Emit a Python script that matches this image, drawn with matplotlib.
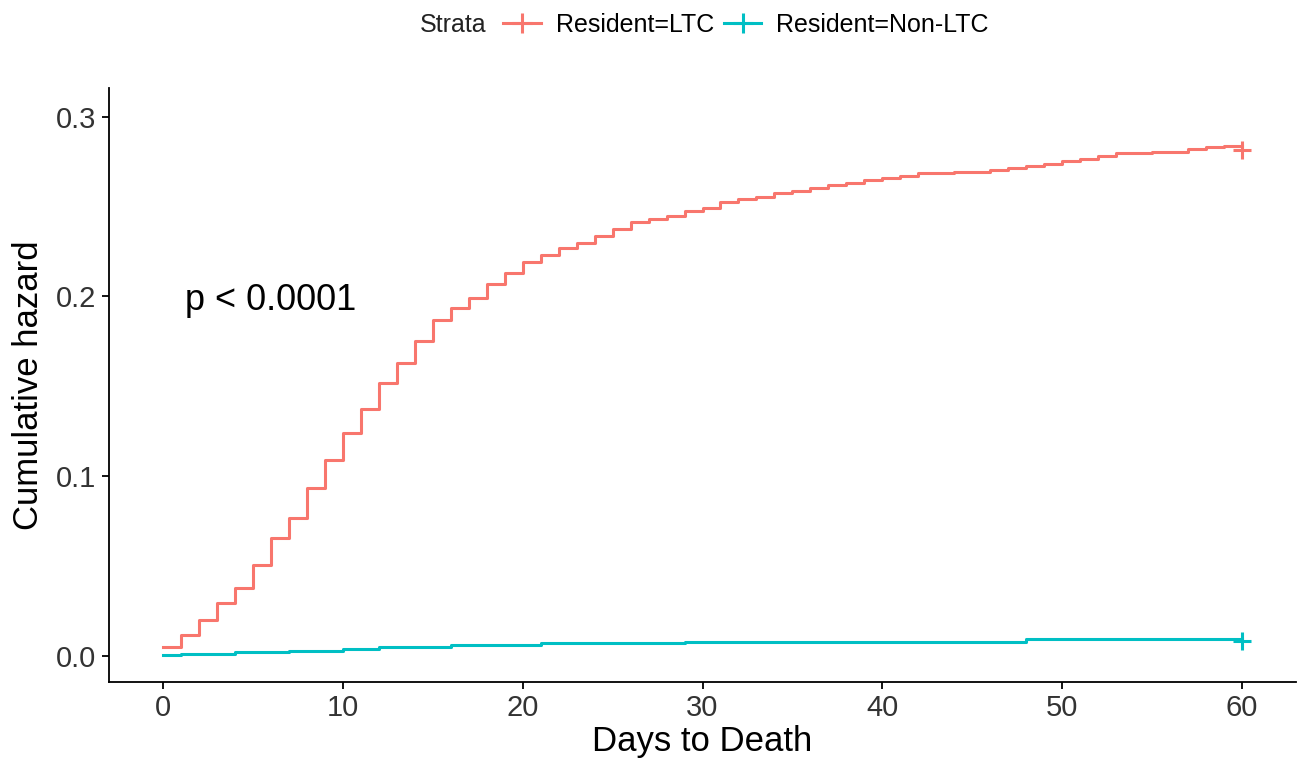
import matplotlib
matplotlib.use("Agg")
import matplotlib.pyplot as plt
from matplotlib.lines import Line2D

plt.rcParams['font.family'] = ['Liberation Sans', 'DejaVu Sans']

# ---- data ----
ltc_days = list(range(0, 61))
ltc_hazard = [0.0048, 0.0117, 0.0200, 0.0293, 0.0377, 0.0506, 0.0655, 0.0770, 0.0937, 0.1090,
              0.1240, 0.1375, 0.1517, 0.1630, 0.1750, 0.1870, 0.1935, 0.1994, 0.2070, 0.2133,
              0.2194, 0.2231, 0.2272, 0.2300, 0.2334, 0.2376, 0.2417, 0.2432, 0.2449, 0.2478,
              0.2491, 0.2523, 0.2543, 0.2556, 0.2575, 0.2589, 0.2606, 0.2621, 0.2634, 0.2649,
              0.2662, 0.2673, 0.2686, 0.2686, 0.2695, 0.2695, 0.2705, 0.2717, 0.2727, 0.2738,
              0.2755, 0.2766, 0.2779, 0.2797, 0.2797, 0.2806, 0.2806, 0.2820, 0.2829, 0.2840,
              0.2840]
nonltc_days = [0, 1, 4, 7, 10, 12, 16, 21, 29, 48, 60]
nonltc_hazard = [0.0003, 0.0010, 0.0020, 0.0030, 0.0040, 0.0050, 0.0060, 0.0070, 0.0080, 0.0095, 0.0095]

censor_days = [60]
ltc_censor = [0.2816]
nonltc_censor = [0.0085]

series_labels = ["Resident=LTC", "Resident=Non-LTC"]
colors = ["#F8766D", "#00BFC4"]
xticks = [0, 10, 20, 30, 40, 50, 60]
yticks = [0.0, 0.1, 0.2, 0.3]
pval_text = "p < 0.0001"

# ---- figure ----
W, H = 1298, 774
fig = plt.figure(figsize=(W / 100, H / 100), dpi=100)
ax = fig.add_axes([109 / W, 1 - 682 / H, (1296 - 109) / W, (682 - 88) / H])

ax.step(ltc_days, ltc_hazard, where='post', color=colors[0], lw=2.2)
ax.step(nonltc_days, nonltc_hazard, where='post', color=colors[1], lw=2.2)
ax.plot(censor_days, ltc_censor, ls='none', marker='+', ms=13, mew=2.2, color=colors[0])
ax.plot(censor_days, nonltc_censor, ls='none', marker='+', ms=13, mew=2.2, color=colors[1])

ax.set_xlim(-3, 63)
ax.set_ylim(-0.0145, 0.316)
ax.set_xticks(xticks)
ax.set_yticks(yticks)
ax.set_yticklabels([f"{v:.1f}" for v in yticks])
for s in ['top', 'right']:
    ax.spines[s].set_visible(False)
for s in ['left', 'bottom']:
    ax.spines[s].set_linewidth(1.3)
    ax.spines[s].set_color('black')
ax.tick_params(axis='both', labelsize=21, colors='black', labelcolor='#333333',
               length=5, width=1.3, pad=4)

ax.set_xlabel("Days to Death", fontsize=25, color='black', labelpad=2)
ax.set_ylabel("Cumulative hazard", fontsize=25, color='black', labelpad=8)

ax.text(1.2, 0.198, pval_text, fontsize=26, color='black', ha='left', va='center')

# legend
fig.text(420 / W, 1 - 25 / H, "Strata", fontsize=18, color='#222222', ha='left', va='center')
handles = [Line2D([], [], color=c, lw=2.2, marker='+', ms=14, mew=2.2) for c in colors]
fig.legend(handles, series_labels, loc='center left', bbox_to_anchor=(503 / W, 1 - 25 / H),
           ncol=2, frameon=False, fontsize=18, handlelength=1.5, handletextpad=0.6,
           columnspacing=0.4, borderpad=0, borderaxespad=0)

fig.savefig("out.png", dpi=100, facecolor='white')
